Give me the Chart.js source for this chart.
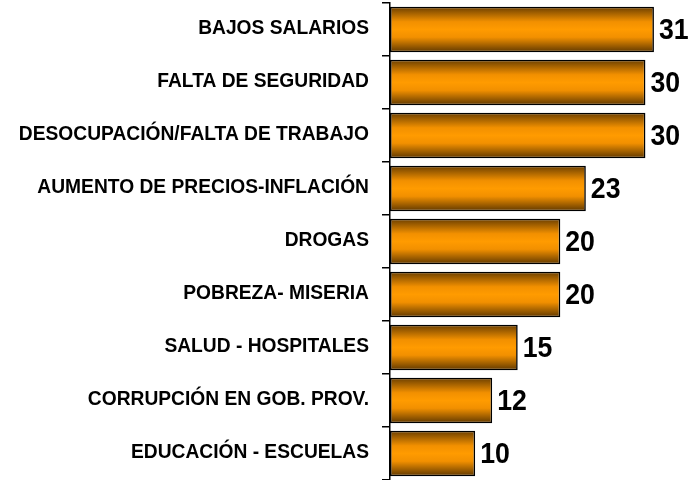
<!DOCTYPE html>
<html>
<head>
<meta charset="utf-8">
<script src="https://cdn.jsdelivr.net/npm/chart.js@4.4.1/dist/chart.umd.min.js"></script>
<style>
  html, body { margin: 0; padding: 0; background: #fff; }
  #wrap { width: 691px; height: 480px; }
</style>
</head>
<body>
<div id="wrap"><canvas id="c" width="691" height="480"></canvas></div>
<script>
const categories = [
  "BAJOS SALARIOS",
  "FALTA DE SEGURIDAD",
  "DESOCUPACIÓN/FALTA DE TRABAJO",
  "AUMENTO DE PRECIOS-INFLACIÓN",
  "DROGAS",
  "POBREZA- MISERIA",
  "SALUD - HOSPITALES",
  "CORRUPCIÓN EN GOB. PROV.",
  "EDUCACIÓN - ESCUELAS"
];
const values = [31, 30, 30, 23, 20, 20, 15, 12, 10];

const BAR_FRACTION = 0.86;

function barGradient(context) {
  const chart = context.chart;
  const y = chart.scales && chart.scales.y;
  if (!y || !chart.chartArea) return '#ff9900';
  const cy = y.getPixelForValue(context.dataIndex);
  const h = (y.height / categories.length) * BAR_FRACTION;
  const g = chart.ctx.createLinearGradient(0, cy - h / 2, 0, cy + h / 2);
  g.addColorStop(0, '#6a3e00');
  g.addColorStop(0.33, '#f29000');
  g.addColorStop(0.5, '#ff9b00');
  g.addColorStop(0.67, '#f29000');
  g.addColorStop(1, '#5e3700');
  return g;
}

// Draws the category labels (narrowed Arial-like bold) at the y scale's tick positions
const categoryLabels = {
  id: 'categoryLabels',
  afterDraw(chart) {
    const ctx = chart.ctx;
    const y = chart.scales.y;
    const xRight = y.right - 21;
    ctx.save();
    ctx.fillStyle = '#000';
    ctx.font = 'bold 21px "Liberation Sans", Arial, sans-serif';
    ctx.textAlign = 'right';
    ctx.textBaseline = 'middle';
    categories.forEach((lab, i) => {
      const py = y.getPixelForValue(i) - 1.5;
      ctx.save();
      ctx.translate(xRight, py);
      ctx.scale(0.915, 1);
      ctx.fillText(lab, 0, 0);
      ctx.restore();
    });
    ctx.restore();
  }
};

const valueLabels = {
  id: 'valueLabels',
  afterDatasetsDraw(chart) {
    const ctx = chart.ctx;
    const meta = chart.getDatasetMeta(0);
    ctx.save();
    ctx.fillStyle = '#000';
    ctx.font = 'bold 29px "Liberation Sans", Arial, sans-serif';
    ctx.textAlign = 'left';
    ctx.textBaseline = 'middle';
    meta.data.forEach((el, i) => {
      ctx.save();
      ctx.translate(el.x + 5, el.y + 1);
      ctx.scale(0.92, 1);
      ctx.fillText(String(values[i]), 0, 0);
      ctx.restore();
    });
    ctx.restore();
  }
};

new Chart(document.getElementById('c'), {
  type: 'bar',
  data: {
    labels: categories,
    datasets: [{
      data: values,
      backgroundColor: barGradient,
      borderColor: '#000',
      borderWidth: 1.6,
      borderSkipped: false,
      categoryPercentage: BAR_FRACTION,
      barPercentage: 1.0
    }]
  },
  options: {
    indexAxis: 'y',
    responsive: false,
    animation: false,
    layout: { padding: { top: 3, right: 3, bottom: 0, left: 0 } },
    plugins: { legend: { display: false }, tooltip: { enabled: false } },
    scales: {
      x: {
        display: false,
        min: 0,
        max: 35
      },
      y: {
        afterFit(scale) {
          scale.width = 390;
          scale.paddingTop = 0;
          scale.paddingBottom = 0;
        },
        border: { display: true, color: '#000', width: 1.5 },
        grid: {
          display: true,
          drawOnChartArea: false,
          drawTicks: true,
          tickLength: 8,
          color: '#000',
          lineWidth: 1.5,
          offset: true
        },
        ticks: { display: false }
      }
    }
  },
  plugins: [valueLabels, categoryLabels]
});
</script>
</body>
</html>
